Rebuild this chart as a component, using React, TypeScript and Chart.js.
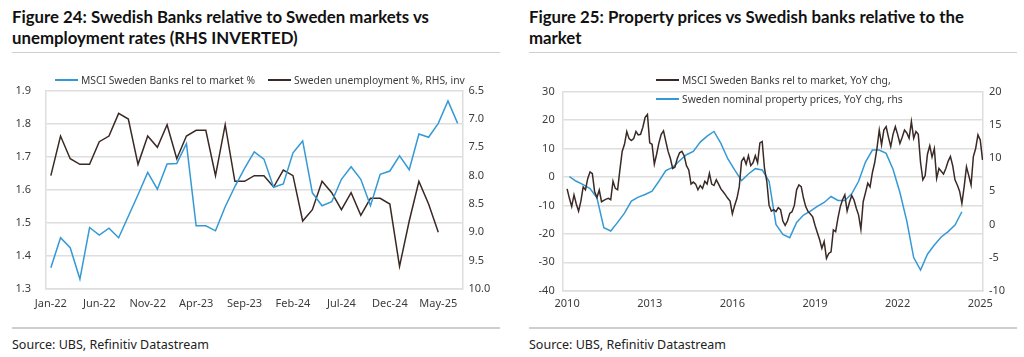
import React, { useEffect, useRef } from "react";
import { Chart, registerables } from "chart.js";

Chart.register(...registerables);

// ---------------- Figure 24 data ----------------
const monthAbbr = ["Jan", "Feb", "Mar", "Apr", "May", "Jun", "Jul", "Aug", "Sep", "Oct", "Nov", "Dec"];
// Monthly categories Jan-22 .. Jul-25
const fig24Months: string[] = Array.from({ length: 43 }, (_, i) => `${monthAbbr[i % 12]}-${22 + Math.floor(i / 12)}`);
const fig24LabelEvery = 5;

const fig24BanksRel = [
  1.364, 1.455, 1.425, 1.33, 1.486, 1.463, 1.484, 1.455, 1.52, 1.585,
  1.653, 1.602, 1.678, 1.68, 1.74, 1.491, 1.491, 1.476, 1.549, 1.61,
  1.665, 1.715, 1.693, 1.608, 1.618, 1.712, 1.748, 1.591, 1.552, 1.564,
  1.632, 1.67, 1.632, 1.552, 1.647, 1.657, 1.703, 1.661, 1.769, 1.759,
  1.801, 1.869, 1.801,
];

const fig24Unemployment = [
  8.0, 7.3, 7.7, 7.8, 7.8, 7.4, 7.3, 6.9, 7.0, 7.8,
  7.3, 7.5, 7.1, 7.7, 7.3, 7.2, 7.2, 8.0, 7.1, 8.1,
  8.1, 8.0, 8.0, 8.2, 7.9, 8.0, 8.8, 8.6, 8.1, 8.3,
  8.6, 8.3, 8.7, 8.4, 8.4, 8.5, 9.6, 8.8, 8.1, 8.5,
  9.0,
];

// ---------------- Figure 25 data ----------------
const fig25BanksStart = 2010; // Jan 2010, monthly
const fig25BanksYoY = [
  -4.2, -7.5, -10.4, -6.3, -9.5, -12.0, -8.5, -3.5, -4.5, -0.5,
  1.8, 1.2, -5.2, -7.2, -4.6, -8.7, -8.2, -7.8, -7.5, -8.0,
  -1.5, -4.0, -4.5, 2.5, 9.0, 11.5, 16.0, 13.5, 12.8, 13.5,
  16.0, 14.8, 15.0, 17.5, 21.0, 22.0, 12.0, 11.5, 4.5, 8.0,
  12.0, 15.0, 16.2, 12.5, 9.0, 6.5, 3.0, 3.5, 6.5, 8.5,
  9.0, 7.5, 4.0, 2.5, -2.5, -1.8, -2.5, -4.5, -3.0, -4.0,
  -1.5, -2.5, 1.3, -2.5, -3.0, -1.0, -2.5, -4.2, -5.2, -6.3,
  -7.5, -8.5, -13.0, -10.0, -7.5, -3.5, 5.5, 6.8, 4.5, 7.5,
  4.0, 5.0, 7.5, 5.0, 12.0, 12.5, 3.0, -1.5, -10.0, -12.0,
  -11.5, -12.2, -10.8, -11.5, -15.5, -17.0, -15.5, -12.8, -12.2, -10.0,
  -4.5, -2.8, -3.4, -7.5, -10.5, -12.2, -13.0, -14.0, -17.0, -19.5,
  -22.0, -25.1, -22.7, -28.6, -26.9, -26.3, -18.6, -19.2, -14.5, -10.5,
  -8.0, -6.3, -12.0, -9.0, -6.5, -8.1, -11.0, -13.4, -18.4, -8.7,
  -5.5, -2.2, -3.5, 1.5, 5.0, 10.1, 16.5, 11.3, 16.5, 17.7,
  14.0, 10.7, 15.0, 17.7, 15.0, 11.8, 14.0, 16.5, 15.5, 13.6,
  19.5, 13.6, 16.0, 15.0, 5.0, -1.0, 0.5, 8.0, 11.0, 7.0,
  10.0, -0.5, 3.0, 2.0, 1.0, 3.0, 5.5, 7.2, 4.0, -1.0,
  -2.8, -5.0, -9.3, -3.4, 3.6, 0.5, -2.8, 7.2, 10.0, 14.8,
  13.0, 6.0,
];

const fig25PropStart = 2010 + 1 / 12; // quarterly, mid-quarter months
const fig25PropertyYoY = [
  7.2, 6.5, 6.0, 5.4, 4.0, -0.5, -1.0, 0.3, 1.7, 3.5,
  4.1, 4.5, 5.0, 6.5, 8.1, 8.6, 9.6, 10.5, 11.0, 12.4,
  13.3, 14.0, 12.2, 9.9, 8.2, 6.6, 7.6, 8.4, 8.2, 6.5,
  0.0, -1.5, -2.0, 0.3, 1.4, 2.0, 2.7, 3.3, 4.2, 3.6,
  3.6, 4.6, 6.5, 9.4, 11.2, 11.2, 10.7, 8.3, 4.8, 0.5,
  -5.0, -6.9, -4.5, -3.1, -1.9, -1.1, -0.1, 1.9,
];

const fig25YearTicks = [2010, 2013, 2016, 2019, 2022, 2025];

// ---------------- styles ----------------
const FONT = "'Noto Sans', 'Open Sans', sans-serif";
const TITLE_FONT = "'Lato', 'Noto Sans', sans-serif";
const BLUE = "#3499d5";
const BROWN = "#3a2925";
const GRID = "#dedede";
const TICK = "#3c3c3c";

const tickFont = { family: FONT, size: 11 };

function ChartCanvas({ config, left, top, width, height }: any) {
  const ref = useRef<HTMLCanvasElement | null>(null);
  useEffect(() => {
    const chart = new Chart(ref.current as HTMLCanvasElement, config());
    return () => chart.destroy();
  }, []);
  return (
    <canvas
      ref={ref}
      width={width}
      height={height}
      style={{ position: "absolute", left, top, width, height }}
    />
  );
}

function fig24Config(): any {
  return {
    type: "line",
    data: {
      labels: fig24Months,
      datasets: [
        {
          label: "MSCI Sweden Banks rel to market %",
          data: fig24BanksRel,
          borderColor: BLUE,
          backgroundColor: BLUE,
          borderWidth: 1.5,
          pointRadius: 0,
          tension: 0,
          yAxisID: "y",
        },
        {
          label: "Sweden unemployment %, RHS, inv",
          data: fig24Unemployment,
          borderColor: BROWN,
          backgroundColor: BROWN,
          borderWidth: 1.5,
          pointRadius: 0,
          tension: 0,
          yAxisID: "y1",
        },
      ],
    },
    options: {
      animation: false,
      responsive: false,
      devicePixelRatio: 1,
      layout: { padding: { top: 34.7, left: 0, right: 0, bottom: 0 } },
      plugins: { legend: { display: false }, tooltip: { enabled: false } },
      scales: {
        x: {
          type: "category",
          offset: true,
          grid: { display: false, drawTicks: false },
          border: { display: true, color: GRID, width: 1.5 },
          ticks: {
            autoSkip: false,
            maxRotation: 0,
            padding: 8,
            color: TICK,
            font: tickFont,
            callback: (_v: any, i: number) => (i % fig24LabelEvery === 0 ? fig24Months[i] : ""),
          },
          afterFit: (s: any) => {
            s.height = 37;
          },
        },
        y: {
          position: "left",
          min: 1.3,
          max: 1.9,
          grid: { color: GRID, lineWidth: 1.5, drawTicks: false },
          border: { display: true, color: GRID, width: 1.5 },
          ticks: {
            stepSize: 0.1,
            padding: 15,
            color: TICK,
            font: tickFont,
            callback: (v: number) => v.toFixed(1),
          },
          afterFit: (s: any) => {
            s.width = 46;
          },
        },
        y1: {
          position: "right",
          min: 6.5,
          max: 10,
          reverse: true,
          grid: { drawOnChartArea: false, drawTicks: false },
          border: { display: true, color: GRID, width: 1.5 },
          ticks: {
            stepSize: 0.5,
            padding: 6,
            color: TICK,
            font: tickFont,
            callback: (v: number) => v.toFixed(1),
          },
          afterFit: (s: any) => {
            s.width = 49.5;
          },
        },
      },
    },
  };
}

function fig25Config(): any {
  return {
    type: "line",
    data: {
      datasets: [
        {
          label: "MSCI Sweden Banks rel to market, YoY chg,",
          data: fig25BanksYoY.map((v, i) => ({ x: fig25BanksStart + i / 12, y: v })),
          borderColor: BROWN,
          backgroundColor: BROWN,
          borderWidth: 1.5,
          pointRadius: 0,
          tension: 0,
          yAxisID: "y",
        },
        {
          label: "Sweden nominal property prices, YoY chg, rhs",
          data: fig25PropertyYoY.map((v, i) => ({ x: fig25PropStart + i / 4, y: v })),
          borderColor: BLUE,
          backgroundColor: BLUE,
          borderWidth: 1.5,
          pointRadius: 0,
          tension: 0,
          yAxisID: "y1",
        },
      ],
    },
    options: {
      animation: false,
      responsive: false,
      devicePixelRatio: 1,
      layout: { padding: { top: 35.7, left: 0, right: 0, bottom: 0 } },
      plugins: { legend: { display: false }, tooltip: { enabled: false } },
      scales: {
        x: {
          type: "linear",
          min: 2009.84,
          max: 2025.1,
          grid: { display: false, drawTicks: false },
          border: { display: true, color: GRID, width: 1.5 },
          afterBuildTicks: (s: any) => {
            s.ticks = fig25YearTicks.map((v) => ({ value: v }));
          },
          ticks: {
            autoSkip: false,
            maxRotation: 0,
            padding: 7,
            color: TICK,
            font: tickFont,
            callback: (v: number) => String(v),
          },
          afterFit: (s: any) => {
            s.height = 35.3;
          },
        },
        y: {
          position: "left",
          min: -40,
          max: 30,
          grid: { color: GRID, lineWidth: 1.5, drawTicks: false },
          border: { display: true, color: GRID, width: 1.5 },
          ticks: { stepSize: 10, padding: 8, color: TICK, font: tickFont },
          afterFit: (s: any) => {
            s.width = 50.7;
          },
        },
        y1: {
          position: "right",
          min: -10,
          max: 20,
          grid: { drawOnChartArea: false, drawTicks: false },
          border: { display: true, color: GRID, width: 1.5 },
          ticks: { stepSize: 5, padding: 6, color: TICK, font: tickFont },
          afterFit: (s: any) => {
            s.width = 41;
          },
        },
      },
    },
  };
}

function LegendItem({ left, top, color, text }: any) {
  return (
    <div
      style={{
        position: "absolute",
        left,
        top: top - 7,
        height: 14,
        display: "flex",
        alignItems: "center",
        whiteSpace: "nowrap",
        fontFamily: FONT,
        fontSize: 10.3,
        color: "#3c3c3c",
        lineHeight: "14px",
      }}
    >
      <span style={{ display: "inline-block", width: 23, height: 2, background: color, marginRight: 3 }} />
      {text}
    </div>
  );
}

function Panel({ left, title1, title2 }: any) {
  return (
    <>
      <div
        style={{
          position: "absolute",
          left: left,
          top: 6,
          width: 500,
          fontFamily: TITLE_FONT,
          fontWeight: 700,
          fontSize: 16.8,
          lineHeight: "21px",
          color: "#111",
          whiteSpace: "nowrap",
        }}
      >
        {title1}
        <br />
        {title2}
      </div>
      <div style={{ position: "absolute", left, top: 51.5, width: 488, height: 1.5, background: "#cfcfcf" }} />
      <div style={{ position: "absolute", left, top: 327, width: 488, height: 1.5, background: "#cfcfcf" }} />
      <div
        style={{
          position: "absolute",
          left,
          top: 336,
          fontFamily: FONT,
          fontSize: 12.5,
          lineHeight: "17px",
          color: "#222",
          whiteSpace: "nowrap",
        }}
      >
        Source: UBS, Refinitiv Datastream
      </div>
    </>
  );
}

export default function App() {
  return (
    <div style={{ position: "fixed", left: 0, top: 0, width: 1024, height: 357, background: "#fff", overflow: "hidden" }}>
      <Panel left={12} title1="Figure 24: Swedish Banks relative to Sweden markets vs" title2="unemployment rates (RHS INVERTED)" />
      <Panel left={529} title1="Figure 25: Property prices vs Swedish banks relative to the" title2="market" />
      <ChartCanvas config={fig24Config} left={0} top={56} width={512} height={270} />
      <ChartCanvas config={fig25Config} left={512} top={56} width={512} height={270} />
      <LegendItem left={55} top={80} color={BLUE} text="MSCI Sweden Banks rel to market %" />
      <LegendItem left={268} top={80} color={BROWN} text="Sweden unemployment %, RHS, inv" />
      <LegendItem left={656} top={80} color={BROWN} text="MSCI Sweden Banks rel to market, YoY chg," />
      <LegendItem left={656} top={99} color={BLUE} text="Sweden nominal property prices, YoY chg, rhs" />
    </div>
  );
}
